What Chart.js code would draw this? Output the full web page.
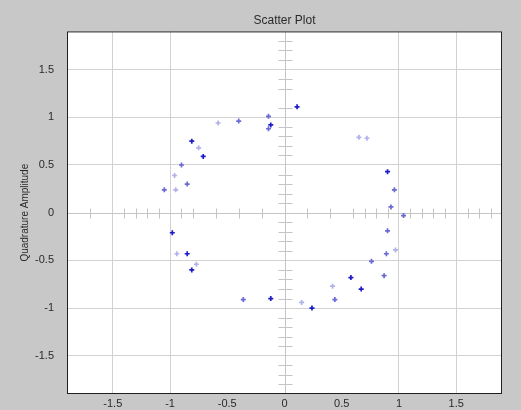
<!DOCTYPE html>
<html lang="en">
<head>
<meta charset="UTF-8">
<title>Scatter Plot</title>
<script src="https://cdn.jsdelivr.net/npm/chart.js"></script>
<style>
    body {
        margin: 0;
        background: #c8c8c8;
    }
    canvas {
        display: block;
    }
</style>
</head>
<body>
<canvas id="scatterChart" width="521" height="410"></canvas>
<script>
    // in-phase (x) / quadrature (y) samples, grouped by how dark the marker is
    const darkI = [0.11, -0.12, -0.81, -0.71, 0.90, -0.98, -0.85, -0.81, -0.12, 0.67, 0.24, 0.58];
    const darkQ = [1.11, 0.92, 0.75, 0.59, 0.43, -0.21, -0.43, -0.60, -0.90, -0.80, -1.00, -0.68];

    const midI = [-0.14, -0.14, -0.40, -0.90, -0.85, -1.05, 0.96, 0.93, 1.04, -0.36, 0.90, 0.89, 0.76, 0.87, 0.44];
    const midQ = [1.01, 0.88, 0.96, 0.50, 0.30, 0.24, 0.24, 0.06, -0.03, -0.91, -0.19, -0.43, -0.51, -0.66, -0.91];

    const lightI = [-0.58, -0.75, -0.96, -0.95, 0.65, 0.72, -0.94, -0.77, 0.15, 0.97, 0.42];
    const lightQ = [0.94, 0.68, 0.39, 0.24, 0.79, 0.78, -0.43, -0.54, -0.94, -0.39, -0.77];

    // axis labels and the small ticks on the zero cross
    const axisTicks = [-1.5, -1, -0.5, 0, 0.5, 1, 1.5];
    const xNoGrid = [-0.5, 0, 0.5];
    const xCrossTicks = [-1.7, -1.4, -1.3, -1.2, -1.1, -0.9, -0.8, -0.6, -0.4, -0.2, 0.2, 0.4, 0.6, 0.7, 0.8, 0.9, 1.1, 1.2, 1.3, 1.4, 1.6, 1.7, 1.8];
    const yCrossTicks = [1.8, 1.7, 1.6, 1.4, 1.3, 1.1, 0.9, 0.8, 0.7, 0.6, 0.4, 0.3, 0.2, 0.1,
        -0.1, -0.2, -0.3, -0.4, -0.6, -0.7, -0.8, -0.9, -1.1, -1.2, -1.3, -1.4, -1.6, -1.7, -1.8];

    const toPoints = (xs, ys) => xs.map((x, i) => ({ x: x, y: ys[i] }));

    // white plot area, zero cross with its little ticks, and the dark frame
    const plotFrame = {
        id: 'plotFrame',
        beforeDraw(chart) {
            const { ctx, chartArea: a } = chart;
            ctx.save();
            ctx.fillStyle = '#ffffff';
            ctx.fillRect(a.left, a.top, a.right - a.left, a.bottom - a.top);
            ctx.restore();
        },
        beforeDatasetsDraw(chart) {
            const { ctx, chartArea: a, scales } = chart;
            const x0 = Math.round(scales.x.getPixelForValue(0)) + 0.5;
            const y0 = Math.round(scales.y.getPixelForValue(0)) + 0.5;
            ctx.save();
            ctx.strokeStyle = '#c4c4c4';
            ctx.lineWidth = 1;
            ctx.beginPath();
            ctx.moveTo(a.left, y0);
            ctx.lineTo(a.right, y0);
            ctx.moveTo(x0, a.top);
            ctx.lineTo(x0, a.bottom);
            xCrossTicks.forEach(v => {
                const px = Math.round(scales.x.getPixelForValue(v)) + 0.5;
                ctx.moveTo(px, y0 - 5);
                ctx.lineTo(px, y0 + 5);
            });
            yCrossTicks.forEach(v => {
                const py = Math.round(scales.y.getPixelForValue(v)) + 0.5;
                ctx.moveTo(x0 - 7, py);
                ctx.lineTo(x0 + 7, py);
            });
            ctx.stroke();
            ctx.restore();
        },
        afterDraw(chart) {
            const { ctx, chartArea: a } = chart;
            ctx.save();
            ctx.strokeStyle = '#202020';
            ctx.lineWidth = 1;
            ctx.strokeRect(a.left + 0.5, a.top + 0.5, a.right - a.left - 1, a.bottom - a.top - 1);
            ctx.restore();
        }
    };

    Chart.defaults.font.family = "'Liberation Sans', Arial, sans-serif";

    const pointStyleFor = (color) => ({
        pointStyle: 'cross',
        pointRadius: 2.5,
        pointBorderWidth: 1.7,
        borderColor: color,
        backgroundColor: color
    });

    new Chart(document.getElementById('scatterChart'), {
        type: 'scatter',
        data: {
            datasets: [
                Object.assign({ label: 'light', data: toPoints(lightI, lightQ) }, pointStyleFor('#b2b2ea')),
                Object.assign({ label: 'medium', data: toPoints(midI, midQ) }, pointStyleFor('#6a6ad6')),
                Object.assign({ label: 'dark', data: toPoints(darkI, darkQ) }, pointStyleFor('#1c1cc8'))
            ]
        },
        options: {
            responsive: false,
            animation: false,
            layout: {
                padding: { left: 0, right: 19, top: 0, bottom: 0 }
            },
            scales: {
                x: {
                    type: 'linear',
                    min: -1.9,
                    max: 1.9,
                    afterBuildTicks: (scale) => { scale.ticks = axisTicks.map(v => ({ value: v })); },
                    afterFit: (scale) => { scale.height = 16; },
                    border: { display: false },
                    grid: {
                        drawTicks: false,
                        color: (c) => xNoGrid.includes(c.tick && c.tick.value) ? 'rgba(0,0,0,0)' : '#d2d2d2'
                    },
                    ticks: {
                        padding: 3,
                        color: '#2a2a2a',
                        font: { size: 11 },
                        callback: (v) => String(v)
                    }
                },
                y: {
                    type: 'linear',
                    min: -1.9,
                    max: 1.9,
                    afterBuildTicks: (scale) => { scale.ticks = axisTicks.map(v => ({ value: v })); },
                    afterFit: (scale) => { scale.width = 67; },
                    border: { display: false },
                    grid: {
                        drawTicks: true,
                        tickLength: 13,
                        tickColor: 'rgba(0,0,0,0)',
                        color: (c) => (c.tick && c.tick.value === 0) ? 'rgba(0,0,0,0)' : '#d2d2d2'
                    },
                    ticks: {
                        padding: 0,
                        color: '#2a2a2a',
                        font: { size: 11 },
                        callback: (v) => String(v)
                    },
                    title: {
                        display: true,
                        text: 'Quadrature Amplitude',
                        color: '#2a2a2a',
                        font: { size: 10 },
                        padding: { top: 19, bottom: 0 }
                    }
                }
            },
            plugins: {
                legend: { display: false },
                tooltip: { enabled: false },
                title: {
                    display: true,
                    fullSize: false,
                    text: 'Scatter Plot',
                    color: '#2a2a2a',
                    font: { size: 12, weight: 'normal' },
                    padding: { top: 13, bottom: 4 }
                }
            }
        },
        plugins: [plotFrame]
    });
</script>
</body>
</html>
